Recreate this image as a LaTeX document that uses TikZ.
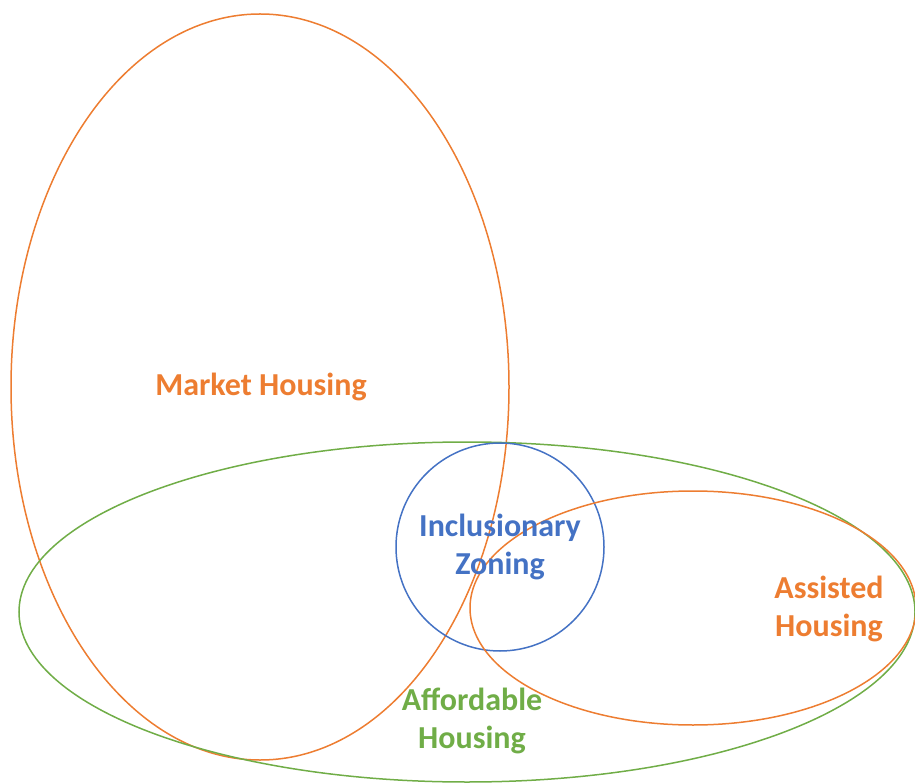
\documentclass[tikz,border=0pt]{standalone}
\usepackage{fontspec}
\setmainfont{Carlito}
\usepackage{tikz}
\usetikzlibrary{positioning}

\definecolor{setorange}{HTML}{ED7D31}
\definecolor{setgreen}{HTML}{70AD47}
\definecolor{setblue}{HTML}{4472C4}

\begin{document}
\begin{tikzpicture}[x=1pt,y=-1pt,
    setline/.style={line width=1.5pt},
    setlabel/.style={font=\fontsize{32}{38}\selectfont\bfseries,align=center}]
  \useasboundingbox (0,0) rectangle (915,783);
  % the four sets
  \draw[setline,setorange] (260,387) ellipse [x radius=249pt, y radius=373pt];
  \draw[setline,setgreen] (467,612) ellipse [x radius=448pt, y radius=170pt];
  \draw[setline,setblue] (500,547) circle [radius=104pt];
  \draw[setline,setorange] (693,608) ellipse [x radius=223pt, y radius=117pt];
  % labels
  \node[setlabel,text=setorange] (market) at (261,387) {Market Housing};
  \node[setlabel,text=setblue] (zoning) at (500,547) {Inclusionary\\Zoning};
  \node[setlabel,text=setorange] (assisted) at (829,609) {Assisted\\Housing};
  \node[setlabel,text=setgreen] (affordable) at (472,721) {Affordable\\Housing};
\end{tikzpicture}
\end{document}
